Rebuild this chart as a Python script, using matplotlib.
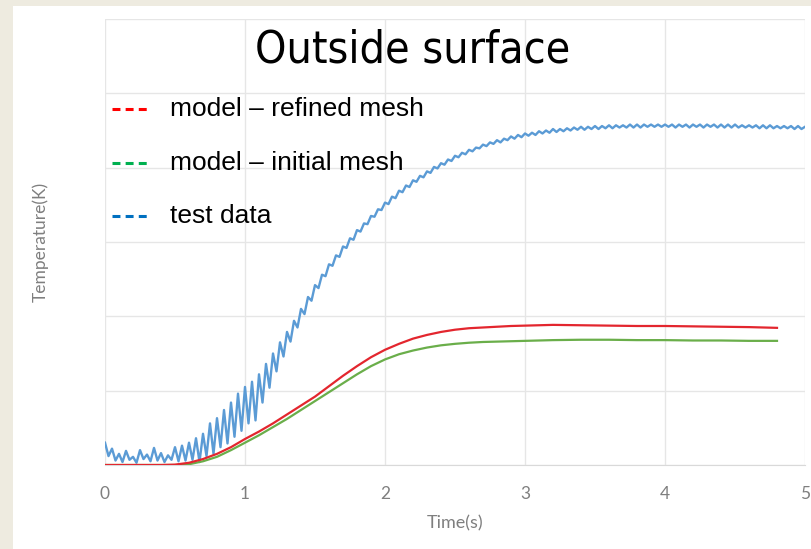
import numpy as np
import matplotlib
matplotlib.use("Agg")
import matplotlib.pyplot as plt
from matplotlib.lines import Line2D
from matplotlib.patches import Rectangle
from matplotlib import font_manager

# Temperatures are stored as rise above the initial temperature (K)
T0 = 300.0
dt_test = 0.025  # test data sampling step (s)

test_rise = [
    3.0, 1.2, 2.2, 0.6, 1.5, 0.4, 1.9, 0.7, 1.1, 0.3,
    2.0, 0.8, 1.4, 0.5, 2.3, 0.6, 1.6, 0.4, 1.3, 0.7,
    2.4, 0.5, 2.6, 0.6, 3.0, 0.7, 3.6, 0.4, 4.2, 1.2,
    5.6, 1.5, 6.3, 2.4, 7.4, 2.9, 8.4, 3.8, 9.6, 4.6,
    10.5, 5.6, 11.2, 6.0, 12.2, 8.4, 13.6, 10.4, 15.0, 12.6,
    16.5, 14.6, 17.9, 16.6, 19.4, 18.5, 21.0, 20.3, 22.6, 22.1,
    24.2, 23.8, 25.6, 25.4, 27.0, 26.8, 28.2, 28.0, 29.4, 29.2,
    30.5, 30.3, 31.6, 31.4, 32.5, 32.4, 33.5, 33.4, 34.4, 34.3,
    35.3, 35.1, 36.1, 35.9, 36.9, 36.7, 37.6, 37.4, 38.3, 38.1,
    38.9, 38.7, 39.5, 39.3, 40.1, 39.9, 40.6, 40.4, 41.1, 40.9,
    41.6, 41.4, 42.0, 41.8, 42.4, 42.2, 42.7, 42.6, 43.1, 42.9,
    43.4, 43.2, 43.7, 43.4, 43.9, 43.7, 44.2, 43.9, 44.4, 44.1,
    44.6, 44.3, 44.7, 44.4, 44.9, 44.6, 45.0, 44.7, 45.2, 44.8,
    45.2, 44.9, 45.3, 45.0, 45.4, 45.1, 45.5, 45.1, 45.5, 45.2,
    45.6, 45.2, 45.6, 45.3, 45.7, 45.3, 45.7, 45.4, 45.7, 45.4,
    45.8, 45.4, 45.8, 45.4, 45.8, 45.5, 45.8, 45.5, 45.8, 45.5,
    45.8, 45.5, 45.8, 45.4, 45.8, 45.5, 45.8, 45.4, 45.8, 45.5,
    45.8, 45.4, 45.8, 45.5, 45.8, 45.4, 45.8, 45.4, 45.8, 45.4,
    45.8, 45.4, 45.7, 45.4, 45.7, 45.4, 45.7, 45.3, 45.7, 45.3,
    45.7, 45.3, 45.6, 45.3, 45.6, 45.3, 45.6, 45.2, 45.6, 45.2,
    45.5,
]

model_t = [0.0, 0.4, 0.5, 0.6, 0.7, 0.8, 0.9, 1.0, 1.1, 1.2, 1.3, 1.4, 1.5,
           1.6, 1.7, 1.8, 1.9, 2.0, 2.1, 2.2, 2.3, 2.4, 2.5, 2.6, 2.7, 2.8,
           2.9, 3.0, 3.2, 3.4, 3.6, 3.8, 4.0, 4.2, 4.4, 4.6, 4.8]
refined_rise = [0, 0, 0.05, 0.3, 0.8, 1.5, 2.4, 3.5, 4.5, 5.6, 6.8, 8.0, 9.2,
                10.6, 12.0, 13.3, 14.5, 15.5, 16.3, 17.0, 17.5, 17.9, 18.2,
                18.4, 18.5, 18.6, 18.7, 18.75, 18.85, 18.8, 18.75, 18.7, 18.7,
                18.65, 18.6, 18.55, 18.45]
initial_rise = [0, 0, 0, 0.1, 0.5, 1.1, 2.0, 3.0, 4.0, 5.1, 6.2, 7.4, 8.6,
                9.8, 11.0, 12.2, 13.3, 14.2, 14.9, 15.4, 15.8, 16.1, 16.3,
                16.45, 16.55, 16.6, 16.65, 16.7, 16.8, 16.85, 16.85, 16.8,
                16.8, 16.75, 16.75, 16.7, 16.7]

legend_labels = ["model \u2013 refined mesh", "model \u2013 initial mesh", "test data"]
legend_colors = ["#FF0000", "#00B050", "#0070C0"]

test_t = np.arange(len(test_rise)) * dt_test

# narrow face for the title if one is installed
names = {f.name for f in font_manager.fontManager.ttflist}
narrow = [n for n in ["Liberation Sans Narrow", "DejaVu Sans Condensed"] if n in names]
title_family = narrow[0] if narrow else "DejaVu Sans"

W, H = 812, 549
fig = plt.figure(figsize=(W / 100, H / 100), dpi=100)
fig.patch.set_facecolor("#EEEBE0")
fig.patches.append(Rectangle((13 / W, 0), 1, 1 - 6 / H, transform=fig.transFigure,
                             facecolor="white", edgecolor="none", zorder=-5))

ax = fig.add_axes([105 / W, 84 / H, 700 / W, 446 / H])
ax.set_facecolor("white")
ax.plot(test_t, T0 + np.array(test_rise), color="#5B9BD5", lw=1.7, zorder=3)
ax.plot(model_t, T0 + np.array(initial_rise), color="#6AAE4A", lw=1.6, zorder=4)
ax.plot(model_t, T0 + np.array(refined_rise), color="#E3262E", lw=1.6, zorder=5)

ax.set_xlim(0, 5)
ax.set_ylim(T0, T0 + 60)
ax.set_xticks(range(6))
ax.set_yticks(np.arange(T0, T0 + 61, 10))
ax.set_yticklabels([])
ax.grid(True, color="#E6E6E6", lw=1)
ax.set_axisbelow(True)
for s in ["top", "right", "left"]:
    ax.spines[s].set_visible(False)
ax.spines["bottom"].set_color("#D9D9D9")
ax.tick_params(axis="both", length=0)
ax.tick_params(axis="x", pad=15, labelsize=12.5, labelcolor="#7F7F7F")
for lab in ax.get_xticklabels():
    lab.set_family(["Lato", "DejaVu Sans"])
ax.set_xlabel("Time(s)", fontsize=13, color="#7F7F7F", labelpad=10,
              family=["Lato", "DejaVu Sans"])
fig.text(40 / W, 1 - 242 / H, "Temperature(K)", rotation=90, ha="center",
         va="center", fontsize=12.5, color="#7F7F7F", family=["Lato", "DejaVu Sans"])

fig.text(413 / W, 1 - 50 / H, "Outside surface", ha="center", va="center",
         fontsize=32, color="black", family=title_family, fontstretch="condensed")

# legend drawn as short dashed strokes with labels beside them
for i, (lab, col) in enumerate(zip(legend_labels, legend_colors)):
    y = 1 - (109 + i * 53.5) / H
    fig.add_artist(Line2D([112 / W, 147 / W], [y, y], transform=fig.transFigure,
                          color=col, lw=2.2, linestyle=(0, (2.6, 1.7)),
                          dash_capstyle="butt"))
    fig.text(170 / W, y, lab, ha="left", va="center", fontsize=19,
             family=["Liberation Sans", "DejaVu Sans"])

fig.savefig("out.png", dpi=100)
